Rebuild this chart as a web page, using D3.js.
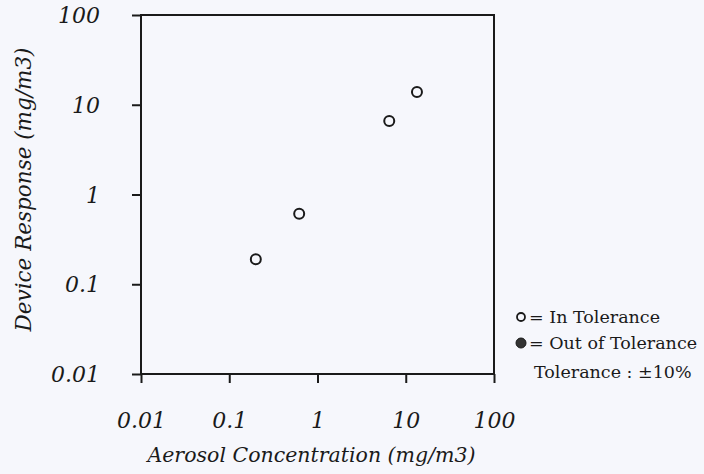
<!DOCTYPE html>
<html>
<head>
<meta charset="utf-8">
<script src="https://cdn.jsdelivr.net/npm/d3@7"></script>
<style>
html,body{margin:0;padding:0;background:#f6f7fc;}
svg{display:block;}
</style>
</head>
<body>
<svg id="chart" width="704" height="474"></svg>
<script>
const xValues = [0.20, 0.62, 6.5, 13.4];
const yValues = [0.19, 0.61, 6.6, 13.9];
const inTolerance = [true, true, true, true];
const tickValues = [0.01, 0.1, 1, 10, 100];
const tickLabels = ["0.01", "0.1", "1", "10", "100"];
const xTitle = "Aerosol Concentration (mg/m3)";
const yTitle = "Device Response (mg/m3)";
const legendItems = ["= In Tolerance", "= Out of Tolerance"];
const legendNote = "Tolerance : \u00b110%";

(function () {
const svg = d3.select("#chart");
const ink = "#1a1a1a";
const serif = "DejaVu Serif";
const pLeft = 141, pRight = 494, pTop = 15, pBottom = 374;

const x = d3.scaleLog().domain([0.01, 100]).range([pLeft, pRight]);
const y = d3.scaleLog().domain([0.01, 100]).range([pBottom, pTop]);

svg.append("rect").attr("x", pLeft).attr("y", pTop)
  .attr("width", pRight - pLeft).attr("height", pBottom - pTop)
  .attr("fill", "none").attr("stroke", ink).attr("stroke-width", 2);

const fmt = d => tickLabels[tickValues.indexOf(d)];

const xAxis = svg.append("g").attr("transform", `translate(0,${pBottom})`)
  .call(d3.axisBottom(x).tickValues(tickValues).tickFormat(fmt).tickSize(9).tickPadding(29));
const yAxis = svg.append("g").attr("transform", `translate(${pLeft},0)`)
  .call(d3.axisLeft(y).tickValues(tickValues).tickFormat(fmt).tickSize(9).tickPadding(32));

[xAxis, yAxis].forEach(g => {
  g.attr("font-family", serif).attr("font-size", 22).attr("font-style", "italic");
  g.select(".domain").remove();
  g.selectAll(".tick line").attr("stroke", ink).attr("stroke-width", 2);
  g.selectAll(".tick text").attr("fill", ink);
});
yAxis.selectAll(".tick text").attr("dy", "0.35em");

svg.append("text").attr("x", (pLeft + pRight) / 2 - 6).attr("y", 462)
  .attr("text-anchor", "middle").attr("fill", ink)
  .attr("font-family", serif).attr("font-style", "italic").attr("font-size", 20.5)
  .text(xTitle);
svg.append("text").attr("transform", `translate(31,${(pTop + pBottom) / 2 - 5}) rotate(-90)`)
  .attr("text-anchor", "middle").attr("fill", ink)
  .attr("font-family", serif).attr("font-style", "italic").attr("font-size", 21.5)
  .text(yTitle);

svg.append("g").selectAll("circle")
  .data(xValues.map((v, i) => ({x: v, y: yValues[i], ok: inTolerance[i]})))
  .join("circle")
  .attr("cx", d => x(d.x)).attr("cy", d => y(d.y)).attr("r", 5)
  .attr("fill", d => d.ok ? "#f6f7fc" : "#333")
  .attr("stroke", ink).attr("stroke-width", 2);

const lg = svg.append("g");
lg.append("circle").attr("cx", 521).attr("cy", 317).attr("r", 4)
  .attr("fill", "none").attr("stroke", ink).attr("stroke-width", 1.8);
lg.append("circle").attr("cx", 521).attr("cy", 343).attr("r", 5)
  .attr("fill", "#333").attr("stroke", ink).attr("stroke-width", 1);
const lt = [[legendItems[0], 529, 323], [legendItems[1], 529, 349], [legendNote, 534, 378]];
lg.selectAll("text").data(lt).join("text")
  .attr("x", d => d[1]).attr("y", d => d[2]).attr("fill", ink)
  .attr("font-family", serif).attr("font-size", 17.5)
  .text(d => d[0]);
})();
</script>
</body>
</html>
